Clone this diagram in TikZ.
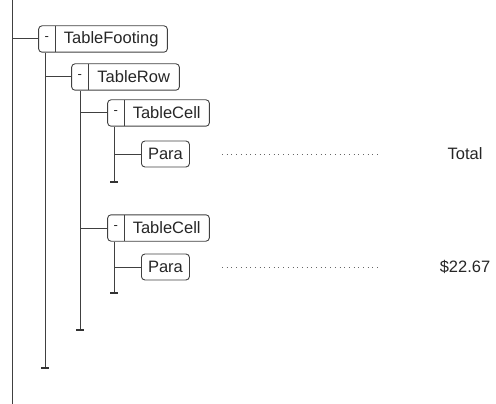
\documentclass[tikz,border=0pt]{standalone}
\usepackage{fontspec}
\setmainfont{Liberation Sans}
\usetikzlibrary{fit}
\begin{document}
\begin{tikzpicture}[x=1pt,y=-1pt,
  conn/.style={draw=black!75, line width=1pt},
  tickln/.style={draw=black!80, line width=1.3pt},
  lbl/.style={inner sep=0pt, minimum height=26pt, anchor=west, font=\fontsize{16.5}{18}\selectfont, text=black!85},
  minus/.style={inner sep=0pt, minimum height=26pt, minimum width=16pt, anchor=east, font=\fontsize{13}{14}\selectfont, text=black!85},
  box/.style={draw=black!75, line width=0.9pt, rounded corners=3.5pt, inner sep=0pt},
  divider/.style={draw=black!75, line width=0.9pt},
  dots/.style={draw=black!60, line width=0.8pt, dash pattern=on 0.8pt off 3.9pt},
  val/.style={inner sep=0pt, font=\fontsize{16.5}{18}\selectfont, text=black!85}
]
\useasboundingbox (0,0) rectangle (496,404);

% root line
\coordinate (root) at (12,0);
\coordinate (rootend) at (12,404);
\draw[conn] (root) -- (rootend);

% TableFooting
\node[lbl, minimum width=112pt] (tf) at (55,39) {TableFooting};
\node[minus] (tfm) at (tf.west) {-};
\node[box, fit=(tfm)(tf)] (tfb) {};
\draw[divider] (tf.north west) -- (tf.south west);
\draw[conn] (tfb.west -| root) -- (tfb.west);

% TableRow
\node[lbl, minimum width=91pt] (tr) at (88,77) {TableRow};
\node[minus] (trm) at (tr.west) {-};
\node[box, fit=(trm)(tr)] (trb) {};
\draw[divider] (tr.north west) -- (tr.south west);

\coordinate (tfend) at (45,368);
\draw[conn] (tfend |- tfb.south) -- (tfend);
\draw[tickln] ([xshift=-4pt]tfend) -- ([xshift=4pt]tfend);
\draw[conn] (trb.west -| tfend) -- (trb.west);

% TableCell 1
\node[lbl, minimum width=85pt] (tc1) at (124,113) {TableCell};
\node[minus] (tc1m) at (tc1.west) {-};
\node[box, fit=(tc1m)(tc1)] (tc1b) {};
\draw[divider] (tc1.north west) -- (tc1.south west);

% TableCell 2
\node[lbl, minimum width=85pt] (tc2) at (124,228) {TableCell};
\node[minus] (tc2m) at (tc2.west) {-};
\node[box, fit=(tc2m)(tc2)] (tc2b) {};
\draw[divider] (tc2.north west) -- (tc2.south west);

\coordinate (trend) at (80,330);
\draw[conn] (trend |- trb.south) -- (trend);
\draw[tickln] ([xshift=-4pt]trend) -- ([xshift=4pt]trend);
\draw[conn] (tc1b.west -| trend) -- (tc1b.west);
\draw[conn] (tc2b.west -| trend) -- (tc2b.west);

% Para 1
\node[lbl, box, minimum width=48pt] (p1) at (141,154) {Para};
\coordinate (tc1end) at (114,182);
\draw[conn] (tc1end |- tc1b.south) -- (tc1end);
\draw[tickln] ([xshift=-4pt]tc1end) -- ([xshift=4pt]tc1end);
\draw[conn] (p1.west -| tc1end) -- (p1.west);

% Para 2
\node[lbl, box, minimum width=48pt] (p2) at (141,267) {Para};
\coordinate (tc2end) at (114,293);
\draw[conn] (tc2end |- tc2b.south) -- (tc2end);
\draw[tickln] ([xshift=-4pt]tc2end) -- ([xshift=4pt]tc2end);
\draw[conn] (p2.west -| tc2end) -- (p2.west);

% dotted leaders and values
\coordinate (d1s) at (222,154);
\coordinate (d1e) at (378,154);
\draw[dots] (d1s) -- (d1e);
\node[val] (v1) at (465,154) {Total};

\coordinate (d2s) at (222,267);
\coordinate (d2e) at (378,267);
\draw[dots] (d2s) -- (d2e);
\node[val] (v2) at (465,267) {\$22.67};
\end{tikzpicture}
\end{document}
